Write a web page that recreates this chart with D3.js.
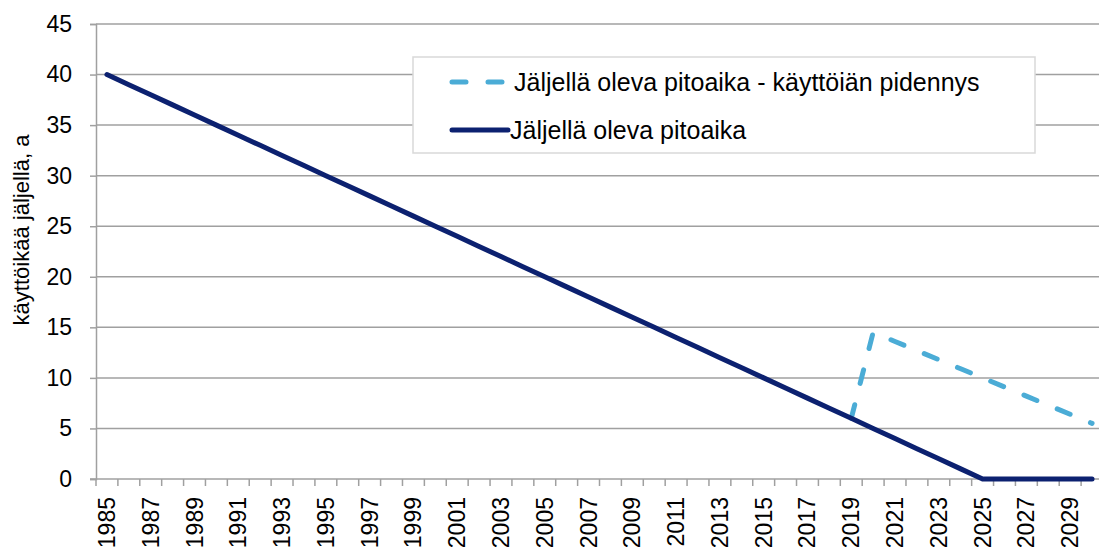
<!DOCTYPE html>
<html>
<head>
<meta charset="utf-8">
<script src="https://cdn.jsdelivr.net/npm/d3@7"></script>
<style>
	body { margin: 0; background: #fff; }
	text { font-family: "Liberation Sans", "DejaVu Sans", sans-serif; fill: #000; }
</style>
</head>
<body>
<div id="chart"></div>
<script>
const YEARS = d3.range(1985, 2031);
const REMAINING = [40, 39, 38, 37, 36, 35, 34, 33, 32, 31, 30, 29, 28, 27, 26, 25, 24, 23, 22, 21, 20,
	19, 18, 17, 16, 15, 14, 13, 12, 11, 10, 9, 8, 7, 6, 5, 4, 3, 2, 1, 0, 0, 0, 0, 0, 0];
const EXT_YEARS = [2019, 2020, 2021, 2022, 2023, 2024, 2025, 2026, 2027, 2028, 2029, 2030];
const EXTENDED = [6, 14.5, 13.6, 12.7, 11.8, 10.9, 10, 9.1, 8.2, 7.3, 6.4, 5.5];
const Y_TICKS = [0, 5, 10, 15, 20, 25, 30, 35, 40, 45];
const LABEL_EXT = "Jäljellä oleva pitoaika - käyttöiän pidennys";
const LABEL_BASE = "Jäljellä oleva pitoaika";
const Y_TITLE = "käyttöikää jäljellä, a";

const DARK = "#0c2170";
const LIGHT = "#4bacd6";
const GRID = "#a0a0a0";

const width = 1099, height = 549;
const plotLeft = 96, plotRight = 1103, plotTop = 24, plotBottom = 479;

let svg = d3.select("#chart").append("svg")
	.attr("width", width)
	.attr("height", height);

let x = d3.scaleBand().domain(YEARS).range([plotLeft, plotRight]);
let y = d3.scaleLinear().domain([0, 45]).range([plotBottom, plotTop]);
let cx = d => x(d) + x.bandwidth() / 2;

// gridlines
svg.append("g")
	.selectAll("line")
	.data(Y_TICKS.filter(d => d > 0))
	.join("line")
	.attr("x1", plotLeft).attr("x2", width)
	.attr("y1", d => y(d)).attr("y2", d => y(d))
	.attr("stroke", GRID).attr("stroke-width", 1.5);

// y axis
let yAxis = svg.append("g")
	.attr("transform", "translate(" + plotLeft + ",0)")
	.call(d3.axisLeft(y).tickValues(Y_TICKS).tickSize(6).tickPadding(18));
yAxis.select(".domain").attr("stroke", GRID).attr("stroke-width", 1.5);
yAxis.selectAll(".tick line").attr("stroke", GRID).attr("stroke-width", 1.5);
yAxis.selectAll("text")
	.style("font-size", "23px")
	.style("font-family", "Liberation Sans, sans-serif")
	.attr("fill", "#000");

// x axis, tick at each category boundary
let xg = svg.append("g");
xg.append("line")
	.attr("x1", plotLeft - 6).attr("x2", width)
	.attr("y1", plotBottom).attr("y2", plotBottom)
	.attr("stroke", GRID).attr("stroke-width", 1.5);
xg.selectAll("line.tick")
	.data(YEARS.concat([2031]))
	.join("line")
	.attr("class", "tick")
	.attr("x1", d => d === 2031 ? plotRight : x(d))
	.attr("x2", d => d === 2031 ? plotRight : x(d))
	.attr("y1", plotBottom).attr("y2", plotBottom + 7)
	.attr("stroke", GRID).attr("stroke-width", 1.5);
xg.selectAll("text")
	.data(YEARS.filter((d, i) => i % 2 === 0))
	.join("text")
	.attr("transform", d => "translate(" + (cx(d) + 8) + "," + (plotBottom + 18) + ") rotate(-90)")
	.attr("text-anchor", "end")
	.style("font-size", "23px")
	.text(d => d);

// y title
svg.append("text")
	.attr("transform", "translate(29,230) rotate(-90)")
	.attr("text-anchor", "middle")
	.style("font-size", "22px")
	.text(Y_TITLE);

// lines
let line = d3.line().x(d => cx(d[0])).y(d => y(d[1]));

svg.append("path")
	.datum(d3.zip(EXT_YEARS, EXTENDED))
	.attr("d", line)
	.attr("fill", "none")
	.attr("stroke", LIGHT)
	.attr("stroke-width", 5)
	.attr("stroke-linecap", "round")
	.attr("stroke-dasharray", "14,22");

svg.append("path")
	.datum(d3.zip(YEARS, REMAINING))
	.attr("d", line)
	.attr("fill", "none")
	.attr("stroke", DARK)
	.attr("stroke-width", 5)
	.attr("stroke-linecap", "round")
	.attr("stroke-linejoin", "round");

// legend
let lg = svg.append("g");
lg.append("rect")
	.attr("x", 413).attr("y", 57)
	.attr("width", 622).attr("height", 96)
	.attr("fill", "#fff")
	.attr("stroke", "#d9d9d9").attr("stroke-width", 1.5);
lg.append("line")
	.attr("x1", 452).attr("x2", 505).attr("y1", 82).attr("y2", 82)
	.attr("stroke", LIGHT).attr("stroke-width", 5)
	.attr("stroke-linecap", "round").attr("stroke-dasharray", "14,22");
lg.append("text")
	.attr("x", 514).attr("y", 82).attr("dy", "0.35em")
	.style("font-size", "25px")
	.text(LABEL_EXT);
lg.append("line")
	.attr("x1", 452).attr("x2", 508).attr("y1", 130).attr("y2", 130)
	.attr("stroke", DARK).attr("stroke-width", 5)
	.attr("stroke-linecap", "round");
lg.append("text")
	.attr("x", 510).attr("y", 130).attr("dy", "0.35em")
	.style("font-size", "25px")
	.text(LABEL_BASE);
</script>
</body>
</html>
